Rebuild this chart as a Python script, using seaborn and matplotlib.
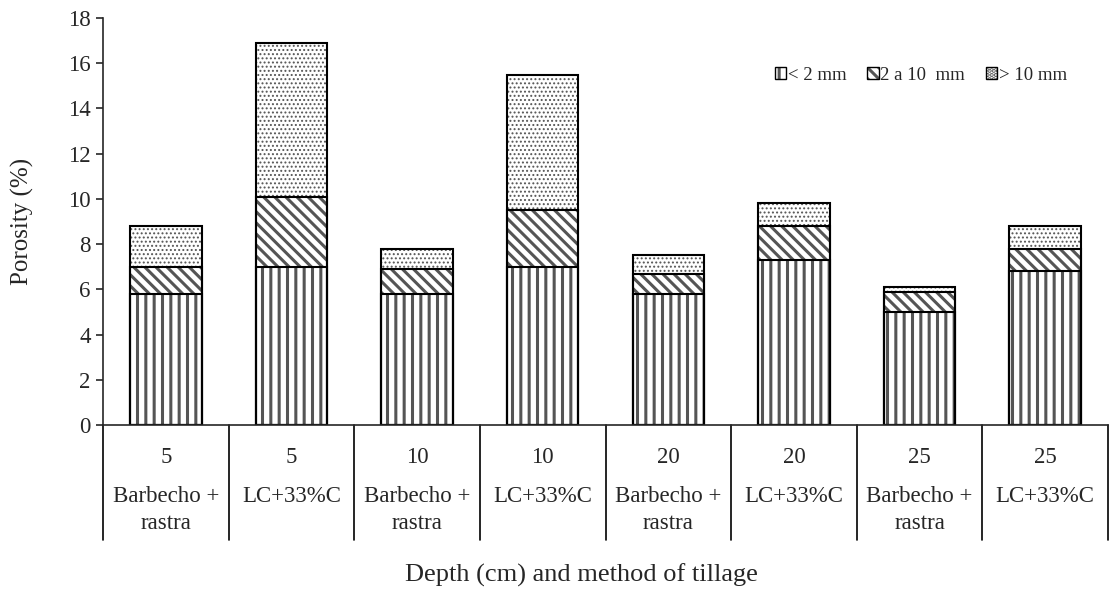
import matplotlib
matplotlib.use("Agg")
import matplotlib.pyplot as plt
import seaborn as sns
import pandas as pd
import numpy as np
from matplotlib.patches import Patch

# ---- data ----
depths = ["5", "5", "10", "10", "20", "20", "25", "25"]
methods = ["Barbecho +\nrastra", "LC+33%C", "Barbecho +\nrastra", "LC+33%C",
           "Barbecho +\nrastra", "LC+33%C", "Barbecho +\nrastra", "LC+33%C"]
pores_lt2 = [5.8, 7.0, 5.8, 7.0, 5.8, 7.3, 5.0, 6.8]
pores_2to10 = [1.2, 3.1, 1.1, 2.5, 0.9, 1.5, 0.9, 1.0]
pores_gt10 = [1.8, 6.8, 0.9, 6.0, 0.8, 1.0, 0.2, 1.0]
series_names = ["< 2 mm", "2 a 10  mm", "> 10 mm"]

sns.set_theme(style="white")
plt.rcParams["font.family"] = ["Liberation Serif", "DejaVu Serif"]
plt.rcParams["hatch.linewidth"] = 2.2
plt.rcParams["axes.linewidth"] = 1.2

keys = [f"{d}|{i}" for i, d in enumerate(depths)]
low = np.array(pores_lt2)
mid = low + np.array(pores_2to10)
top = mid + np.array(pores_gt10)

fig = plt.figure(figsize=(11.09, 5.90), dpi=100)
ax = fig.add_axes([103 / 1109, 1 - 425 / 590, 1005 / 1109, 407 / 590])

hatches = ["....", "\\\\\\", "||"]
hatch_lw = [0.9, 2.2, 2.2]
levels = [top, mid, low]
barw = 0.57
hatch_col = "#555555"
for vals, h, hl in zip(levels, hatches, hatch_lw):
    df = pd.DataFrame({"k": keys, "v": vals})
    n0 = len(ax.patches)
    sns.barplot(data=df, x="k", y="v", color="white", width=barw,
                edgecolor=hatch_col, linewidth=0, hatch=h, ax=ax,
                errorbar=None, saturation=1)
    for p in ax.patches[n0:]:
        p.set_facecolor("white")
        p.set_edgecolor(hatch_col)
        p.set_hatch(h)
        p.set_linewidth(0)
        if hasattr(p, "set_hatch_linewidth"):
            p.set_hatch_linewidth(hl)
for vals in levels:
    df = pd.DataFrame({"k": keys, "v": vals})
    sns.barplot(data=df, x="k", y="v", color="black", width=barw, fill=False,
                linewidth=1.5, ax=ax, errorbar=None)

FS = 16.5
ax.set_xlim(-0.5, len(keys) - 0.5)
ax.set_ylim(0, 18)
ax.set_yticks(np.arange(0, 19, 2))
ax.tick_params(axis="y", labelsize=FS, length=5, width=1.2, direction="out",
               left=True, pad=4)
ax.tick_params(axis="x", length=0, labelsize=FS, pad=16)
ax.set_xticks(range(len(keys)))
ax.set_xticklabels(depths)
for s in ["top", "right"]:
    ax.spines[s].set_visible(False)
ax.set_xlabel("")
ax.set_ylabel("Porosity (%)", fontsize=18)
ax.yaxis.set_label_coords(-(103 - 34) / 1005, 0.5)

# group labels and dividers
for i, m in enumerate(methods):
    ax.text(i, -(486 - 425) / 407, m, transform=ax.get_xaxis_transform(),
            ha="center", va="top", fontsize=FS, linespacing=1.4, clip_on=False)
for b in np.arange(-0.5, len(keys), 1.0):
    ax.plot([b, b], [0, -(540 - 425) / 407], transform=ax.get_xaxis_transform(),
            color="black", lw=1.2, clip_on=False)

fig.text(581 / 1109, 1 - 575 / 590, "Depth (cm) and method of tillage",
         ha="center", va="center", fontsize=19)

handles = []
for h, hl in zip(["||", "\\\\\\", "...."], [2.2, 2.2, 0.9]):
    hp = Patch(facecolor="white", edgecolor=hatch_col, hatch=h, linewidth=0)
    if hasattr(hp, "set_hatch_linewidth"):
        hp.set_hatch_linewidth(hl)
    handles.append((hp, Patch(fill=False, edgecolor="black", linewidth=1.0)))
ax.legend(handles, series_names, loc="center right",
          bbox_to_anchor=((1067 - 103) / 1005, (425 - 75) / 407),
          ncol=3, frameon=False, fontsize=13.5, handlelength=0.6, handleheight=0.6,
          handletextpad=0.1, columnspacing=1.1, borderpad=0, borderaxespad=0)

fig.savefig("out.png", dpi=100)
